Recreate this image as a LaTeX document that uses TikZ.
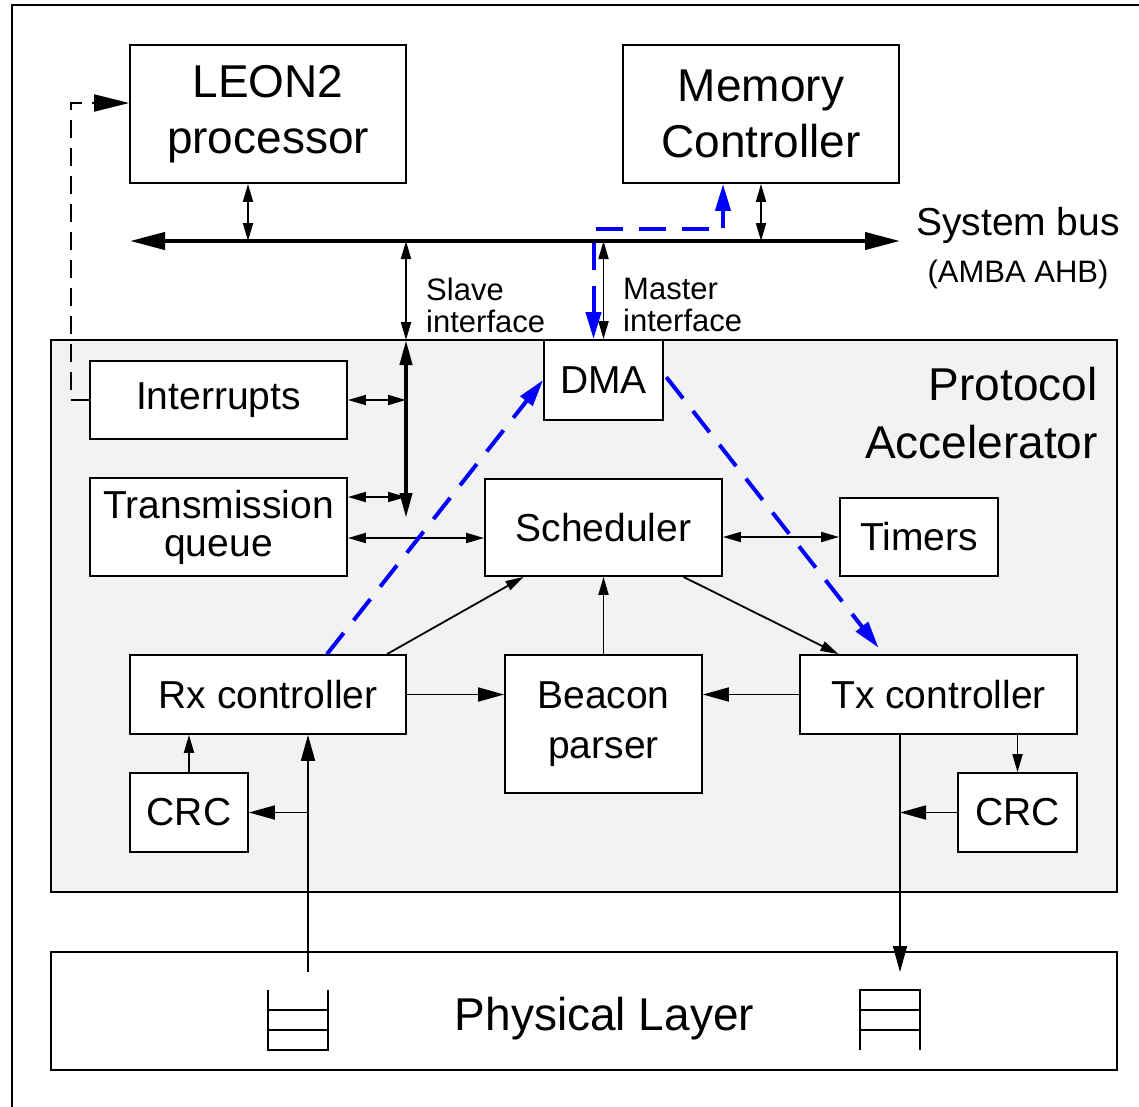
\documentclass[tikz,border=0pt]{standalone}
\usepackage{fontspec}
\setmainfont{Liberation Sans}
\usetikzlibrary{arrows.meta,positioning}
\definecolor{accelgray}{RGB}{242,242,242}
\definecolor{dmablue}{RGB}{0,0,255}
\tikzset{
  blockbox/.style={
    rectangle,
    draw=black,
    line width=1.8pt,
    fill=white,
    align=center,
    inner sep=0pt,
    font={\fontsize{39pt}{40pt}\selectfont}
  },
  bigblock/.style={
    blockbox,
    font={\fontsize{46pt}{56pt}\selectfont}
  },
  plainlabel/.style={
    inner sep=0pt,
    font={\fontsize{31pt}{32pt}\selectfont}
  },
  sigarrow/.style={
    -{Triangle[length=26pt,width=14pt]},
    line width=1.8pt
  },
  smallarrow/.style={
    -{Triangle[length=18pt,width=10pt]},
    line width=1.8pt
  },
  smallboth/.style={
    {Triangle[length=18pt,width=10pt]}-{Triangle[length=18pt,width=10pt]},
    line width=1.8pt
  },
  busarrow/.style={
    {Triangle[length=35pt,width=17pt]}-{Triangle[length=35pt,width=17pt]},
    line width=4pt
  },
  barboth/.style={
    {Triangle[length=25pt,width=12pt]}-{Triangle[length=25pt,width=12pt]},
    line width=4pt
  },
  irqline/.style={
    -{Triangle[length=35pt,width=17pt]},
    line width=1.8pt,
    dash pattern=on 18pt off 10pt
  },
  dmaflow/.style={
    -{Triangle[length=27pt,width=15pt]},
    draw=dmablue,
    line width=4pt,
    dash pattern=on 27pt off 16pt
  }
}

\begin{document}
\begin{tikzpicture}[x=1pt,y=-1pt]
\useasboundingbox (0,0) rectangle (1139,1106);
\clip (0,0) rectangle (1139,1106);
\draw[line width=2pt] (12,1130) -- (12,5) -- (1160,5);

\node[bigblock, minimum width=276pt, minimum height=138pt] (leon) at (268,114) {LEON2\\processor};
\node[bigblock, minimum width=276pt, minimum height=138pt] (memctrl) at (761,114) {Memory\\Controller};

\coordinate (busL) at (130,241);
\coordinate (busR) at (900,241);
\node[anchor=base, inner sep=0pt, font={\fontsize{39pt}{40pt}\selectfont}] (buslabel) at (1018,235) {System bus};
\node[anchor=base, plainlabel] (ambalabel) at (1018,282) {(AMBA AHB)};

\node[rectangle, draw=black, line width=1.8pt, fill=accelgray, minimum width=1066pt, minimum height=552pt] (accel) at (584,616) {};
\node[anchor=north east, align=right, inner sep=0pt, font={\fontsize{46pt}{58pt}\selectfont}] (accellabel) at ([xshift=-20pt,yshift=-28pt]accel.north east) {Protocol\\Accelerator};

\node[blockbox, minimum width=119pt, minimum height=80pt] (dma) at (603.5,380) {DMA};
\node[blockbox, minimum width=257pt, minimum height=78pt] (intr) at (218.5,400) {Interrupts};
\node[blockbox, minimum width=257pt, minimum height=98pt, font={\fontsize{39pt}{38pt}\selectfont}] (txq) at (218.5,527) {Transmission\\queue};
\node[blockbox, minimum width=237pt, minimum height=97pt] (sched) at (603.5,527.5) {Scheduler};
\node[blockbox, minimum width=158pt, minimum height=78pt] (timers) at (919,537) {Timers};
\node[blockbox, minimum width=276pt, minimum height=79pt] (rx) at (268,694.5) {Rx controller};
\node[blockbox, minimum width=197pt, minimum height=138pt, font={\fontsize{39pt}{50pt}\selectfont}] (beacon) at (603.5,724) {Beacon\\parser};
\node[blockbox, minimum width=277pt, minimum height=79pt] (tx) at (938.5,694.5) {Tx controller};
\node[blockbox, minimum width=118pt, minimum height=79pt] (crcl) at (189,812.5) {CRC};
\node[blockbox, minimum width=119pt, minimum height=79pt] (crcr) at (1017.5,812.5) {CRC};

\node[rectangle, draw=black, line width=1.8pt, minimum width=1066pt, minimum height=118pt] (phy) at (584,1011) {};
\node[anchor=base, inner sep=0pt, font={\fontsize{46pt}{56pt}\selectfont}] (phylabel) at (604.5,1030) {Physical Layer};

\node[anchor=north west, align=left, plainlabel] (slavelabel) at (426,278) {Slave\\interface};
\node[anchor=north west, align=left, plainlabel] (masterlabel) at (623,278) {Master\\interface};

\coordinate (bartop) at (406,340);
\coordinate (barbot) at (406,518);
\coordinate (rxtap) at (308,972);
\coordinate (txtap) at (900,972);

\draw[busarrow] (busL) -- (busR);
\draw[smallboth] ([xshift=-20pt]leon.south) -- ([xshift=-20pt]leon.south |- busL);
\draw[smallboth] (memctrl.south) -- (memctrl.south |- busL);
\draw[smallboth] (busL -| bartop) -- (bartop);
\draw[smallboth] (busL -| dma.north) -- (dma.north);

\draw[barboth] (bartop) -- (barbot);
\draw[smallboth] (intr.east) -- (intr.east -| bartop);
\draw[smallboth] ([yshift=30pt]txq.east) -- ([yshift=30pt]txq.east -| bartop);
\draw[smallboth] ([yshift=-11pt]txq.east) -- ([yshift=-11pt]txq.east -| sched.west);
\draw[smallboth] (sched.east |- timers.west) -- (timers.west);

\draw[smallarrow] ([xshift=119pt]rx.north) -- ([xshift=-80pt]sched.south);
\draw[smallarrow] (beacon.north) -- (sched.south);
\draw[smallarrow] ([xshift=80pt]sched.south) -- ([xshift=-100pt]tx.north);
\draw[sigarrow] (rx.east) -- (rx.east -| beacon.west);
\draw[sigarrow] (tx.west) -- (tx.west -| beacon.east);
\draw[smallarrow] (crcl.north) -- (crcl.north |- rx.south);
\draw[smallarrow] (crcr.north |- tx.south) -- (crcr.north);

\draw[sigarrow] (rxtap) -- (rxtap |- rx.south);
\draw[sigarrow] (rxtap |- crcl.east) -- (crcl.east);
\draw[sigarrow] (txtap |- tx.south) -- (txtap);
\draw[sigarrow] (crcr.west) -- (crcr.west -| txtap);

\draw[line width=1.8pt] (268,990) -- (268,1050) -- (328,1050) -- (328,990);
\draw[line width=1.8pt] (268,1010) -- (328,1010) (268,1030) -- (328,1030);
\draw[line width=1.8pt] (860,1050) -- (860,990) -- (920,990) -- (920,1050);
\draw[line width=1.8pt] (860,1010) -- (920,1010) (860,1030) -- (920,1030);

\draw[irqline] (intr.west) -- ++(-18,0) |- ([yshift=11pt]leon.west);

\draw[dmaflow, {Triangle[length=27pt,width=15pt]}-{Triangle[length=27pt,width=15pt]}] ([xshift=-10pt]dma.north) -- ++(0,-110) -| ([xshift=-38pt]memctrl.south);
\draw[dmaflow] ([xshift=59pt]rx.north) -- (dma.west);
\draw[dmaflow, shorten <=4pt, shorten >=8pt] ([yshift=6pt]dma.east) -- ([xshift=-55pt]tx.north);
\end{tikzpicture}
\end{document}
